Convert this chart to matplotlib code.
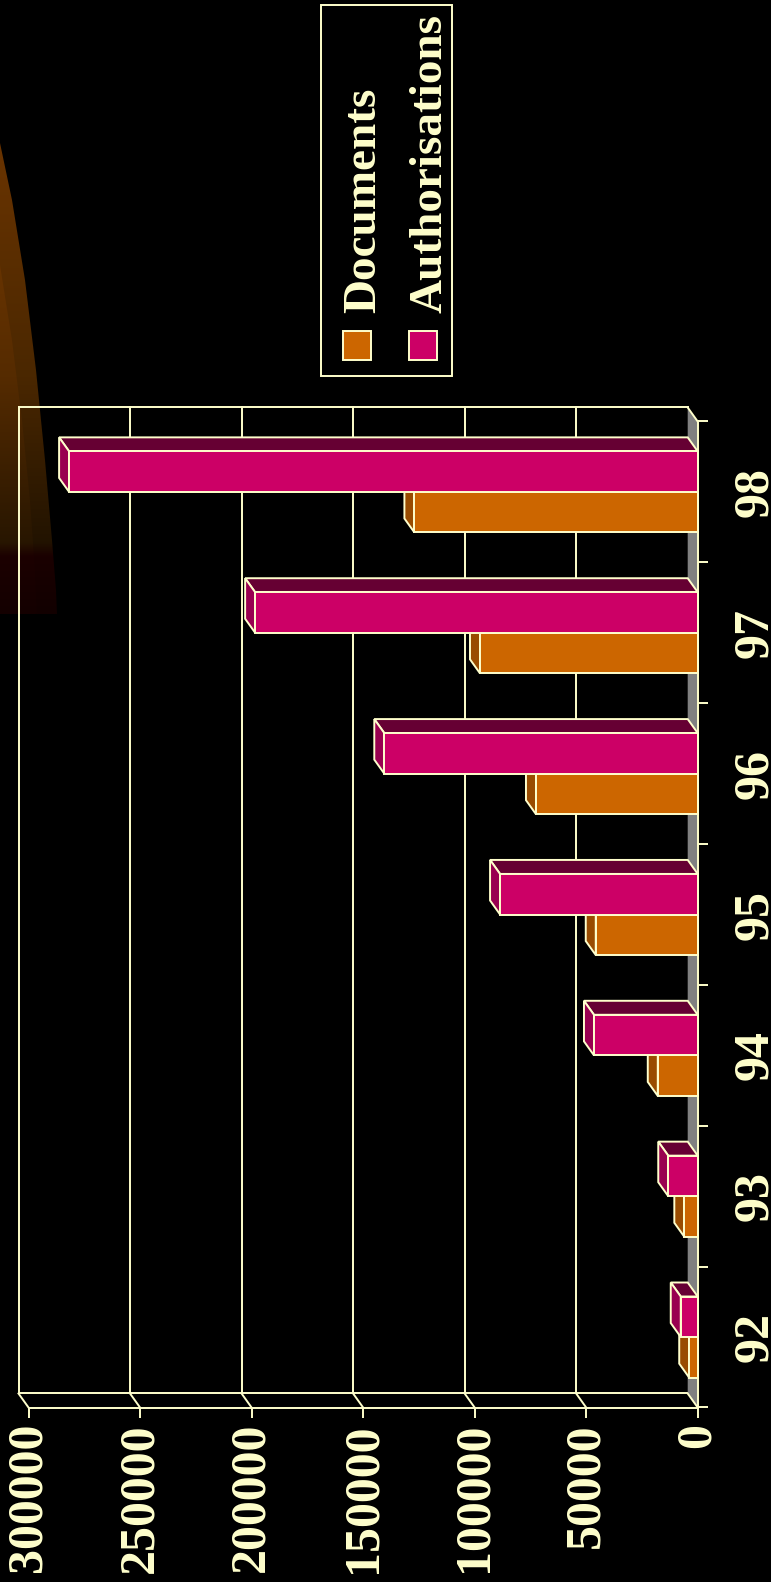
import numpy as np
import matplotlib
matplotlib.use('Agg')
import matplotlib.pyplot as plt
from matplotlib.patches import Polygon, Rectangle
from matplotlib.colors import LinearSegmentedColormap

# ---------------- data ----------------
categories = ['92', '93', '94', '95', '96', '97', '98']
documents = [3800, 6000, 17900, 45700, 72500, 97600, 127000]
authorisations = [7600, 13200, 46500, 88600, 140500, 198400, 281800]
value_ticks = [0, 50000, 100000, 150000, 200000, 250000, 300000]
series_names = ['Documents', 'Authorisations']

# ---------------- style ----------------
LINE = '#FFFFCC'
DOC_FRONT, DOC_CAP, DOC_SIDE = '#CC6600', '#994C00', '#663300'
AUT_FRONT, AUT_CAP, AUT_SIDE = '#CC0066', '#990050', '#660033'
FLOOR = '#808080'
LW = 1.4
FS_LEG = 34
FS_TICK = 36

plt.rcParams['font.family'] = ['Liberation Serif', 'DejaVu Serif']
plt.rcParams['font.weight'] = 'bold'

W, H = 771, 1582
fig = plt.figure(figsize=(W / 100, H / 100), dpi=100, facecolor='black')

# ---------------- background decoration ----------------
bg = fig.add_axes([0, 0, 1, 1], zorder=-5)
bg.set_xlim(0, W)
bg.set_ylim(H, 0)
bg.axis('off')

outer = [(0, 143), (12, 200), (25, 280), (36, 370), (45, 460), (52, 540),
         (56, 590), (57, 614), (0, 614)]
inner = [(0, 265), (12, 340), (22, 420), (30, 500), (35, 570), (37, 614), (0, 614)]
cm_outer = LinearSegmentedColormap.from_list(
    'o', [(0, '#6a3400'), (0.5, '#4a2700'), (0.85, '#221300'), (0.88, '#1a0000'), (1, '#120000')])
cm_inner = LinearSegmentedColormap.from_list(
    'i', [(0, '#7a3c00'), (0.5, '#552b00'), (0.85, '#281600'), (0.88, '#1c0000'), (1, '#140000')])
grad = np.linspace(0, 1, 256).reshape(-1, 1)
for pts, cmap in ((outer, cm_outer), (inner, cm_inner)):
    poly = Polygon(pts, closed=True, facecolor='none', edgecolor='none')
    bg.add_patch(poly)
    im = bg.imshow(grad, extent=[0, 60, 614, 140], cmap=cmap, aspect='auto',
                   origin='upper', zorder=0)
    im.set_clip_path(poly)

# ---------------- main axes (front plane) ----------------
xl_px, xr_px = 28.5, 697.7
yt_px, yb_px = 421.5, 1407.5
ax = fig.add_axes([xl_px / W, 1 - yb_px / H, (xr_px - xl_px) / W, (yb_px - yt_px) / H])
ax.set_facecolor('none')
vmax = max(value_ticks)
n = len(categories)
ax.set_xlim(vmax, 0)
ylo, yhi = -0.5, n - 0.5
ax.set_ylim(ylo, yhi)

px_per_val = (xr_px - xl_px) / vmax
px_per_cat = (yb_px - yt_px) / n
dv = 10 / px_per_val      # depth offset (to the left on screen)
dc = 14 / px_per_cat      # depth offset (upwards on screen)

# back wall, gridlines, floor
for v in value_ticks[1:]:
    ax.plot([v + dv, v + dv], [ylo + dc, yhi + dc], color=LINE, lw=LW, zorder=1,
            clip_on=False, solid_capstyle='projecting')
    ax.plot([v + dv, v], [ylo + dc, ylo], color=LINE, lw=LW, zorder=1, clip_on=False)
ax.plot([vmax + dv, dv], [yhi + dc, yhi + dc], color=LINE, lw=LW, zorder=1, clip_on=False)
ax.plot([vmax + dv, dv], [ylo + dc, ylo + dc], color=LINE, lw=LW, zorder=1, clip_on=False)
ax.add_patch(Polygon([(0, ylo), (0, yhi), (dv, yhi + dc), (dv, ylo + dc)], closed=True,
                     facecolor=FLOOR, edgecolor='none', zorder=1.5, clip_on=False))
ax.plot([dv, 0], [yhi + dc, yhi], color=LINE, lw=LW, zorder=1.6, clip_on=False)
ax.plot([dv, 0], [ylo + dc, ylo], color=LINE, lw=LW, zorder=1.6, clip_on=False)

# ---------------- bars ----------------
y = np.arange(n)
h = 0.288
kw = dict(edgecolor=LINE, linewidth=LW, joinstyle='miter', clip_on=False)

for i in range(n):
    v = documents[i]
    c = y[i]
    ax.add_patch(Polygon([(v, c), (0, c), (dv, c + dc), (v + dv, c + dc)],
                         facecolor=DOC_SIDE, zorder=3, **kw))
    ax.add_patch(Polygon([(v, c - h), (v, c), (v + dv, c + dc), (v + dv, c - h + dc)],
                         facecolor=DOC_CAP, zorder=3, **kw))
ax.barh(y - h, documents, height=h, align='edge', color=DOC_FRONT, edgecolor=LINE,
        linewidth=LW, zorder=3.5, clip_on=False)

for i in range(n):
    v = authorisations[i]
    c = y[i]
    ax.add_patch(Polygon([(v, c + h), (0, c + h), (dv, c + h + dc), (v + dv, c + h + dc)],
                         facecolor=AUT_SIDE, zorder=4, **kw))
    ax.add_patch(Polygon([(v, c), (v, c + h), (v + dv, c + h + dc), (v + dv, c + dc)],
                         facecolor=AUT_CAP, zorder=4, **kw))
ax.barh(y, authorisations, height=h, align='edge', color=AUT_FRONT, edgecolor=LINE,
        linewidth=LW, zorder=4.5, clip_on=False)

# ---------------- axes styling ----------------
for s in ('top', 'left'):
    ax.spines[s].set_visible(False)
for s in ('bottom', 'right'):
    ax.spines[s].set_color(LINE)
    ax.spines[s].set_linewidth(LW)
    ax.spines[s].set_zorder(6)

ax.set_xticks(value_ticks)
ax.set_xticklabels([str(v) for v in value_ticks], rotation=90)
ax.tick_params(axis='x', direction='out', length=7.2, width=LW, color=LINE,
               labelcolor=LINE, labelsize=FS_TICK, pad=4)

ax.yaxis.tick_right()
ax.set_yticks(y)
ax.set_yticklabels(categories, rotation=90, va='center')
ax.set_yticks(np.arange(n + 1) - 0.5, minor=True)
ax.tick_params(axis='y', which='major', length=0, labelcolor=LINE, labelsize=FS_TICK, pad=25)
ax.tick_params(axis='y', which='minor', direction='out', length=7.2, width=LW, color=LINE)

# ---------------- legend (rotated, manual) ----------------
bg.add_patch(Rectangle((321, 5), 131, 371, facecolor='none', edgecolor=LINE, lw=LW, zorder=2))
legend_items = [(series_names[0], DOC_FRONT, 343, 375), (series_names[1], AUT_FRONT, 409, 441)]
for name, col, sx, base in legend_items:
    bg.add_patch(Rectangle((sx, 331), 28, 29, facecolor=col, edgecolor=LINE, lw=LW, zorder=2))
    bg.text(base, 313, name, rotation=90, rotation_mode='anchor', ha='left', va='baseline',
            color=LINE, fontsize=FS_LEG, fontweight='bold', zorder=3)

fig.savefig('out.png', dpi=100, facecolor='black')
